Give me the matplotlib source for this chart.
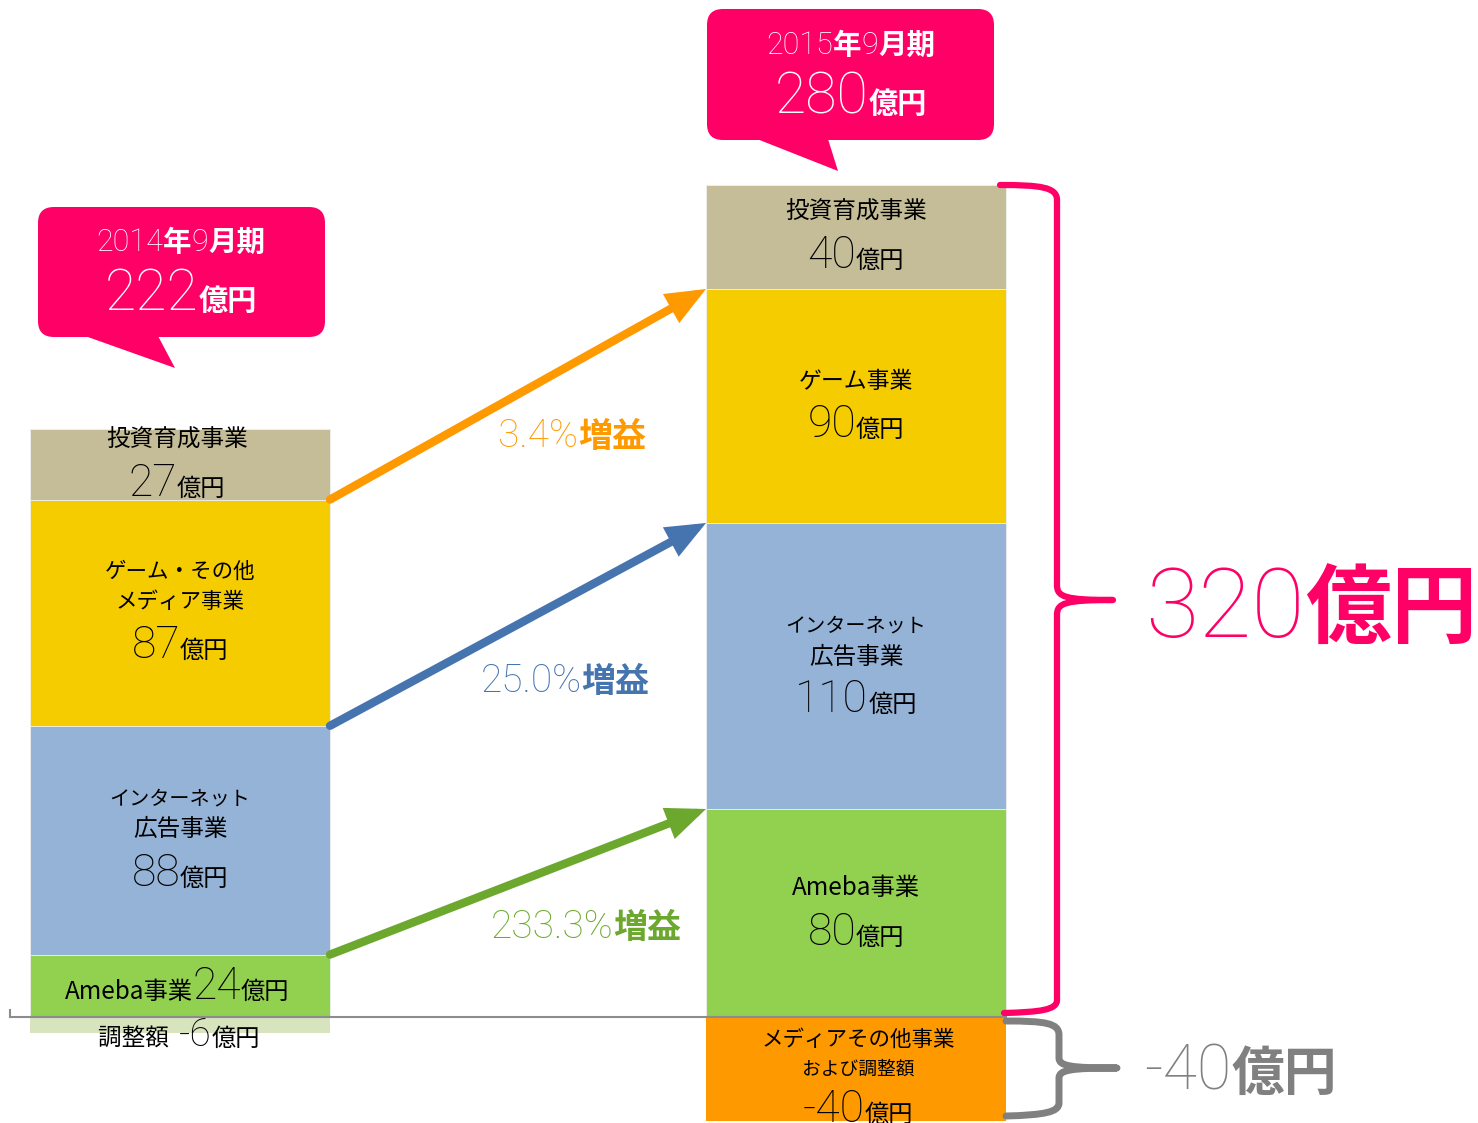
import matplotlib
matplotlib.use('Agg')
import matplotlib.pyplot as plt
from matplotlib.patches import FancyArrowPatch, FancyBboxPatch, Polygon, PathPatch, ArrowStyle
from matplotlib.path import Path
import numpy as np

# ---------------- data ----------------
periods = ['2014年9月期', '2015年9月期']
totals = [222, 280]
segments = ['Ameba事業', 'インターネット広告事業', 'ゲーム事業', '投資育成事業']
fy2014 = [24, 88, 87, 27]
fy2015 = [80, 110, 90, 40]
adjust = [-6, -40]
growth = ['233.3%', '25.0%', '3.4%']
positive_total_2015 = 320

# ---------------- figure ----------------
W, H = 1478, 1123
fig = plt.figure(figsize=(W / 100, H / 100), dpi=100)
ax = fig.add_axes([0, 0, 1, 1])
BASE_PX, PX_PER = 1017, 2.6
ax.set_xlim(0, W)
ax.set_ylim(-(H - BASE_PX) / PX_PER, BASE_PX / PX_PER)
ax.axis('off')

ov = fig.add_axes([0, 0, 1, 1])
ov.set_xlim(0, W)
ov.set_ylim(H, 0)
ov.axis('off')
ov.patch.set_visible(False)

MAG = '#FF0066'
GRAY = '#808080'
LT = dict(family=['Roboto', 'Noto Sans CJK JP'], weight='light')
BD = dict(family=['Noto Sans CJK JP'], weight='bold')
RG = dict(family=['Noto Sans CJK JP'], weight='normal')

seg_colors = ['#92D050', '#95B3D7', '#F5CC00', '#C4BD97']
adj_colors = ['#D7E4BD', '#FF9900']
xs = [180, 856]
bw = 300
for xi, vals, adj, adjc in zip(xs, [fy2014, fy2015], adjust, adj_colors):
    vals = np.array(vals)
    bottoms = np.concatenate([[0], np.cumsum(vals)[:-1]])
    ax.bar(xi, vals, bw, bottom=bottoms, color=seg_colors,
           edgecolor='#EFEFEF', linewidth=0.6, zorder=1)
    ax.bar(xi, adj, bw, color=adjc, linewidth=0, zorder=1)

# baseline
ax.plot([10, 1006], [0, 0], color='#8C8C8C', lw=1.5, zorder=2)
ax.plot([10, 10], [0, 2.8], color='#8C8C8C', lw=1.5, zorder=2)

# arrows
cum14 = np.cumsum(fy2014)
cum15 = np.cumsum(fy2015)
arrow_colors = ['#6BA82D', '#4674AF', '#FF9900']
for i in range(3):
    a = FancyArrowPatch((xs[0] + bw / 2, cum14[i]), (xs[1] - bw / 2, cum15[i]),
                        arrowstyle=ArrowStyle('-|>', head_length=1.8, head_width=0.75),
                        mutation_scale=10, lw=6, color=arrow_colors[i],
                        shrinkA=0, shrinkB=0, zorder=3, joinstyle='miter')
    ax.add_patch(a)

# ---------------- rich text helper ----------------
renderer = fig.canvas.get_renderer()


def rich(x, y, pieces, ha='center'):
    objs, widths = [], []
    for s, size, props, color in pieces:
        t = ov.text(0, y, s, va='baseline', ha='left', fontsize=size, color=color, **props)
        widths.append(t.get_window_extent(renderer=renderer).width)
        objs.append(t)
    total = sum(widths)
    x0 = x - total / 2 if ha == 'center' else x
    for t, w in zip(objs, widths):
        t.set_x(x0)
        x0 += w


def label(x, y, s, size=16.5, color='black', props=RG):
    ov.text(x, y, s, ha='center', va='center', fontsize=size, color=color, **props)


NUM, UNIT = 32, 17.5


def value_row(x, y, v):
    rich(x, y, [(str(v), NUM, LT, 'black'), ('億円', UNIT, RG, 'black')])


# ---------------- callouts ----------------
for (bx, by, bwid, bh), tail in [((38, 207, 287, 130), [(85, 336), (175, 368), (158, 336)]),
                                 ((707, 9, 287, 131), [(757, 139), (838, 171), (828, 139)])]:
    ov.add_patch(FancyBboxPatch((bx, by), bwid, bh, boxstyle='round,pad=0,rounding_size=16',
                                fc=MAG, ec='none'))
    ov.add_patch(Polygon(tail, closed=True, fc=MAG, ec='none'))

for cx, ly1, ly2, per, tot in [(181, 251, 310, periods[0], totals[0]),
                                (851, 54, 113, periods[1], totals[1])]:
    yr, rest = per.split('年')
    mon, ki = rest.split('月')
    rich(cx, ly1, [(yr, 22, LT, 'white'), ('年', 20.5, BD, 'white'),
                   (mon, 22, LT, 'white'), ('月' + ki, 20.5, BD, 'white')])
    rich(cx, ly2, [(str(tot), 41, LT, 'white'), ('億円', 21, BD, 'white')])

# ---------------- bar labels (2015) ----------------
label(856, 212, '投資育成事業', size=17)
value_row(856, 268, fy2015[3])
label(856, 381, 'ゲーム事業', size=16.5)
value_row(856, 437, fy2015[2])
label(856, 626, 'インターネット', size=14.5)
label(856, 657, '広告事業', size=17)
value_row(856, 712, fy2015[1])
label(856, 888, 'Ameba事業', size=17.5)
value_row(856, 945, fy2015[0])
label(858, 1040, 'メディアその他事業', size=15.5)
label(858, 1069, 'および調整額', size=13.5)
value_row(858, 1122, adjust[1])

# ---------------- bar labels (2014) ----------------
label(177, 440, '投資育成事業', size=17)
value_row(177, 496, fy2014[3])
label(180, 572, 'ゲーム・その他', size=15.5)
label(180, 602, 'メディア事業', size=15.5)
value_row(180, 658, fy2014[2])
label(180, 799, 'インターネット', size=14.5)
label(180, 830, '広告事業', size=17)
value_row(180, 886, fy2014[1])
rich(177, 999, [('Ameba事業', 17.5, RG, 'black'), (str(fy2014[0]), NUM, LT, 'black'),
                ('億円', UNIT, RG, 'black')])
rich(179, 1046, [('調整額  ', 17, RG, 'black'), (str(adjust[0]), 28, LT, 'black'),
                 ('億円', UNIT, RG, 'black')])

# ---------------- growth labels ----------------
for (cx, by), g, c in zip([(586, 938), (565, 692), (572, 447)], growth, arrow_colors):
    rich(cx, by, [(g, 28, LT, c), ('増益', 24.5, BD, c)])

# ---------------- braces ----------------
M, L, C4 = Path.MOVETO, Path.LINETO, Path.CURVE4
mag_verts = [(1000, 185), (1040, 185), (1057, 187), (1057, 200),
             (1057, 585),
             (1057, 597), (1065, 600), (1113, 600),
             (1065, 600), (1057, 603), (1057, 615),
             (1057, 1000),
             (1057, 1010), (1040, 1012), (1004, 1013)]
codes = [M, C4, C4, C4, L, C4, C4, C4, C4, C4, C4, L, C4, C4, C4]
ov.add_patch(PathPatch(Path(mag_verts, codes), fc='none', ec=MAG, lw=4.5,
                       capstyle='round', joinstyle='round'))
gray_verts = [(1006, 1021), (1045, 1021), (1059, 1023), (1059, 1035),
              (1059, 1058),
              (1059, 1066), (1070, 1068), (1117, 1068),
              (1070, 1068), (1059, 1070), (1059, 1078),
              (1059, 1103),
              (1059, 1112), (1045, 1115), (1006, 1116)]
ov.add_patch(PathPatch(Path(gray_verts, codes), fc='none', ec=GRAY, lw=5,
                       capstyle='round', joinstyle='round'))

rich(1311, 637, [(str(positive_total_2015), 70, LT, MAG), ('億円', 62, BD, MAG)])
rich(1241, 1090, [(str(adjust[1]), 45, LT, GRAY), ('億円', 38, BD, GRAY)])

fig.savefig('out.png', dpi=100)
